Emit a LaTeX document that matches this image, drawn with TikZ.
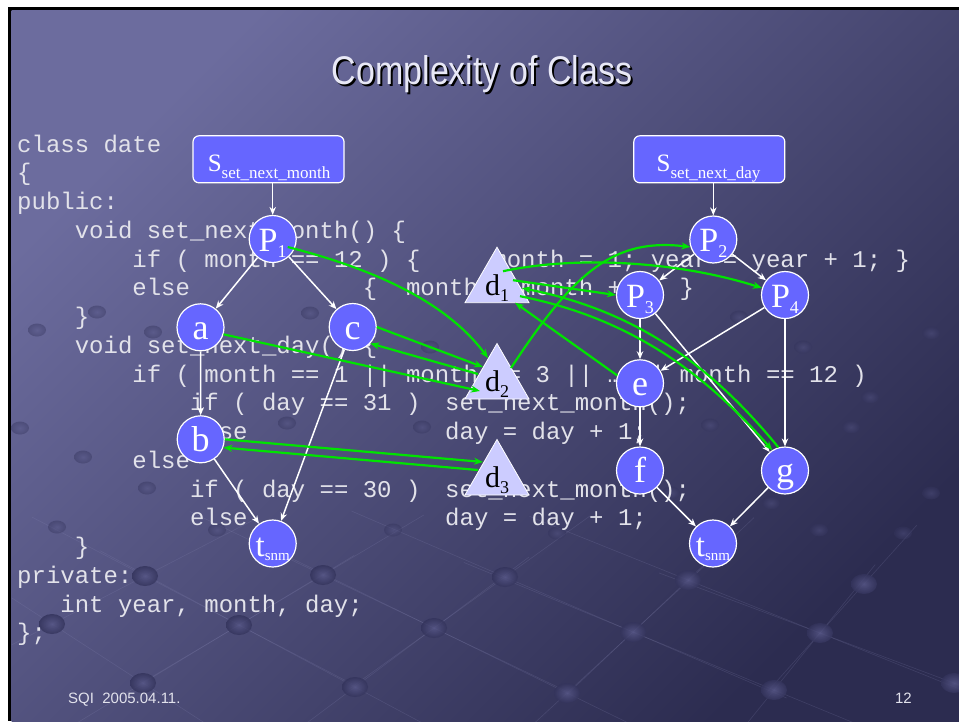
\documentclass[tikz,border=0pt]{standalone}
\usepackage{fontspec}
\setmainfont{Liberation Serif}
\setsansfont{Liberation Sans}
\setmonofont{Liberation Mono}
\usetikzlibrary{shapes.geometric,arrows.meta,calc}

\definecolor{slidelight}{RGB}{108,108,158}
\definecolor{slidedark}{RGB}{44,44,80}
\definecolor{nodeblue}{RGB}{102,102,255}
\definecolor{datafill}{RGB}{204,204,255}
\definecolor{usegreen}{RGB}{0,228,0}
\definecolor{codetext}{RGB}{226,226,234}
\definecolor{titletext}{RGB}{232,232,246}
\definecolor{foottext}{RGB}{226,226,236}
\definecolor{ballin}{RGB}{86,86,134}
\definecolor{ballout}{RGB}{52,52,92}
\definecolor{meshline}{RGB}{140,140,185}

% node labels: each baseline is pinned a fixed distance below the node centre
\newcommand{\mkP}[1]{\raisebox{-12pt}[0pt][0pt]{\fontsize{34}{34}\selectfont P\raisebox{-6pt}{\fontsize{18}{18}\selectfont #1}}}
\newcommand{\mkL}[1]{\raisebox{-12pt}[0pt][0pt]{\fontsize{36}{36}\selectfont #1}}
\newcommand{\mkT}{\raisebox{-13pt}[0pt][0pt]{\fontsize{33}{33}\selectfont t\raisebox{-4pt}{\fontsize{15}{15}\selectfont snm}}}
\newcommand{\mkD}[1]{\raisebox{-11pt}[0pt][0pt]{\fontsize{30}{30}\selectfont d\raisebox{-6pt}{\fontsize{18}{18}\selectfont #1}}}
\newcommand{\mkS}[1]{\fontsize{25}{25}\selectfont S\raisebox{-6.6pt}{\fontsize{17}{17}\selectfont #1}}

\begin{document}
\begin{tikzpicture}[x=1pt,y=-1pt,
  blocknode/.style={circle, draw=white, line width=1.2pt, fill=nodeblue, text=white,
    minimum size=47pt, inner sep=0pt},
  startbox/.style={rectangle, rounded corners=6pt, draw=white, line width=1.2pt,
    fill=nodeblue, minimum width=151pt, minimum height=47pt, inner sep=0pt},
  startlabel/.style={anchor=base, inner sep=0pt, text=white},
  datanode/.style={regular polygon, regular polygon sides=3, draw=white, line width=0.8pt,
    fill=datafill, text=black, minimum size=74pt, inner sep=0pt},
  ctrlflow/.style={draw=white, line width=1.5pt, -{Stealth[length=8pt,width=6.5pt]}},
  uselink/.style={draw=usegreen, line width=2.2pt, -{Stealth[length=9pt,width=7pt]}},
  codeline/.style={anchor=base west, inner sep=0pt, text=codetext,
    font=\fontsize{24}{29}\selectfont\ttfamily},
  lattice/.style={draw=meshline, line width=0.6pt, opacity=0.2},
]
\useasboundingbox (0,0) rectangle (959,721);

% ---------- slide background ----------
\fill[white] (0,0) rectangle (959,721);
\fill[black] (8.3,6.7) rectangle (959,721);
\shade[top color=slidelight, bottom color=slidedark, shading angle=45]
  (11.7,10.1) rectangle (959,721);

% decorative lattice of spheres
\coordinate (a1) at (145,576); \coordinate (a2) at (323,575); \coordinate (a3) at (505,577);
\coordinate (a4) at (688,580); \coordinate (a5) at (864,584);
\coordinate (b1) at (52,624);  \coordinate (b2) at (239,625); \coordinate (b3) at (434,628);
\coordinate (b4) at (633,632); \coordinate (b5) at (820,633);
\coordinate (c1) at (143,683); \coordinate (c2) at (355,687); \coordinate (c3) at (567,693);
\coordinate (c4) at (774,690); \coordinate (c5) at (954,683);
\begin{scope}
\clip (11.7,10.1) rectangle (959,721);
\foreach \p/\q in {b1/a1,a1/b2,b2/a2,a2/b3,b3/a3,a3/b4,b4/a4,a4/b5,b5/a5,
                   b1/c1,c1/b2,b2/c2,c2/b3,b3/c3,c3/b4,b4/c4,c4/b5,b5/c5}
  \draw[lattice] ($(\p)!-1.2!(\q)$) -- ($(\p)!2.2!(\q)$);
\foreach \n in {a1,a2,a3,a4,a5,b1,b2,b3,b4,b5,c1,c2,c3,c4,c5}
  \shade[inner color=ballin, outer color=ballout, opacity=0.85]
    (\n) ellipse [x radius=13, y radius=10];
\foreach \x/\y in {20/428,83/457,147/488,57/527,217/530,287/423,422/427,393/530,
                   310/313,430/347,153/332,37/330,97/312,557/533,710/425,851/427,
                   819/530,903/533,931/493,870/397,803/347,931/333,739/317,771/503,
                   671/493}
  \shade[inner color=ballin, outer color=ballout, opacity=0.45]
    (\x,\y) ellipse [x radius=9, y radius=6.5];
\end{scope}

% ---------- title ----------
\node[anchor=base, inner sep=0pt, text=black, font=\sffamily\fontsize{40}{40}\selectfont]
  (titleshade) at (484,86) {\scalebox{0.85}[1]{Complexity of Class}};
\node[anchor=base, inner sep=0pt, text=titletext, font=\sffamily\fontsize{40}{40}\selectfont]
  (title) at (482,84) {\scalebox{0.85}[1]{Complexity of Class}};

% ---------- source code (column width 14.4pt, line pitch 28.75pt) ----------
\node[codeline] (l0)  at (17,152)     {class date};
\node[codeline] (l1)  at (17,180.75)  {\{};
\node[codeline] (l2)  at (17,209.5)   {public:};
\node[codeline] (l3)  at (74.6,238.25) {void set\_next\_month() \{};
\node[codeline] (l4)  at (132.2,267)  {if ( month == 12 ) \{};
\node[codeline] (l4r) at (492.2,267)  {month = 1; year = year + 1; \}};
\node[codeline] (l5)  at (132.2,295.75) {else};
\node[codeline] (l5r) at (362.6,295.75) {\{};
\node[codeline] (l5s) at (405.8,295.75) {month = month + 1; \}};
\node[codeline] (l6)  at (74.6,324.5) {\}};
\node[codeline] (l7)  at (74.6,353.25) {void set\_next\_day() \{};
\node[codeline] (l8)  at (132.2,382)  {if ( month == 1 || month == 3 || … || month == 12 )};
\node[codeline] (l9)  at (189.8,410.75) {if ( day == 31 )};
\node[codeline] (l9r) at (445,410.75) {set\_next\_month();};
\node[codeline] (l10) at (189.8,439.5) {else};
\node[codeline] (l10r) at (445,439.5) {day = day + 1;};
\node[codeline] (l11) at (132.2,468.25) {else};
\node[codeline] (l12) at (189.8,497)  {if ( day == 30 )};
\node[codeline] (l12r) at (445,497)   {set\_next\_month();};
\node[codeline] (l13) at (189.8,525.75) {else};
\node[codeline] (l13r) at (445,525.75) {day = day + 1;};
\node[codeline] (l14) at (74.6,554.5) {\}};
\node[codeline] (l15) at (17,583.25)  {private:};
\node[codeline] (l16) at (60.2,612)   {int year, month, day;};
\node[codeline] (l17) at (17,640.75)  {\};};

% ---------- control flow graph of set_next_month ----------
\node[startbox] (s1) at (268.5,159.3) {};
\node[startlabel] (s1t) at (269,171.7) {\mkS{set\_next\_month}};
\node[blocknode] (p1) at (272.7,239)   {\mkP{1}};
\node[blocknode] (na) at (200.5,327.3) {\mkL{a}};
\node[blocknode] (nc) at (352.7,327)   {\mkL{c}};
\node[blocknode] (nb) at (200.7,439.3) {\mkL{b}};
\node[blocknode] (t1) at (272.7,543.5) {\mkT};

% ---------- control flow graph of set_next_day ----------
\node[startbox] (s2) at (709.3,159.3) {};
\node[startlabel] (s2t) at (708.5,171.7) {\mkS{set\_next\_day}};
\node[blocknode] (p2) at (713.3,239.5) {\mkP{2}};
\node[blocknode] (p3) at (640,295)     {\mkP{3}};
\node[blocknode] (p4) at (785,295)     {\mkP{4}};
\node[blocknode] (ne) at (640,383.3)   {\mkL{e}};
\node[blocknode] (nf) at (640,470.5)   {\mkL{f}};
\node[blocknode] (ng) at (785,470.5)   {\mkL{g}};
\node[blocknode] (t2) at (713,543.5)   {\mkT};

% ---------- data members ----------
\node[datanode] (d1) at (497,284.2) {\mkD{1}};
\node[datanode] (d2) at (497,380.5) {\mkD{2}};
\node[datanode] (d3) at (497,476.5) {\mkD{3}};

% ---------- control flow edges ----------
\draw[ctrlflow] (s1.south -| p1) -- (p1);
\draw[ctrlflow] (p1) -- (na);
\draw[ctrlflow] (p1) -- (nc);
\draw[ctrlflow] (na) -- (nb);
\draw[ctrlflow] (nb) -- (t1);
\draw[ctrlflow] (nc) -- (t1);
\draw[ctrlflow] (s2.south -| p2) -- (p2);
\draw[ctrlflow] (p2) -- (p3);
\draw[ctrlflow] (p2) -- (p4);
\draw[ctrlflow] (p3) -- (ne);
\draw[ctrlflow] (p3) -- (ng);
\draw[ctrlflow] (p4) -- (ne);
\draw[ctrlflow] (p4) -- (ng);
\draw[ctrlflow] (ne) -- (nf);
\draw[ctrlflow] (nf) -- (t2);
\draw[ctrlflow] (ng) -- (t2);

% ---------- data use links ----------
\draw[uselink] ($(p1)+(15,8)$) .. controls (370,268) and (445,300) .. ($(d2)+(-9,-22.5)$);
\draw[uselink] (nc.east) -- ($(d2)+(-14,-13.5)$);
\draw[uselink] ($(d2)+(-19,-6.5)$) -- (nc.-43);
\draw[uselink] (na.-17) -- ($(d2)+(-17,10.5)$);
\draw[uselink] (nb.east) -- ($(d3)+(-14,-14.5)$);
\draw[uselink] ($(d3)+(-19,-6.5)$) -- (nb.-20);
\draw[uselink] ($(d2)+(14,-12.5)$) .. controls (575,270) and (615,238) .. (p2.198);
\draw[uselink] ($(d1)+(6,-13)$) .. controls (580,255) and (680,262) .. (p4.163);
\draw[uselink] ($(d1)+(16,-4)$) -- (p3.west);
\draw[uselink] (ng.106) .. controls (719,375) and (645,312) .. ($(d1)+(25,4)$);
\draw[uselink] ($(d1)+(23,12)$) .. controls (640,320) and (712,382) .. (ng.122);
\draw[uselink] (ne.161) -- ($(d1)+(18,18.5)$);

% ---------- footer ----------
\node[anchor=base west, inner sep=0pt, text=foottext, font=\sffamily\fontsize{15}{15}\selectfont]
  (footleft) at (68,703) {SQI\ \ 2005.04.11.};
\node[anchor=base east, inner sep=0pt, text=foottext, font=\sffamily\fontsize{15}{15}\selectfont]
  (footright) at (912,703) {12};
\end{tikzpicture}
\end{document}
